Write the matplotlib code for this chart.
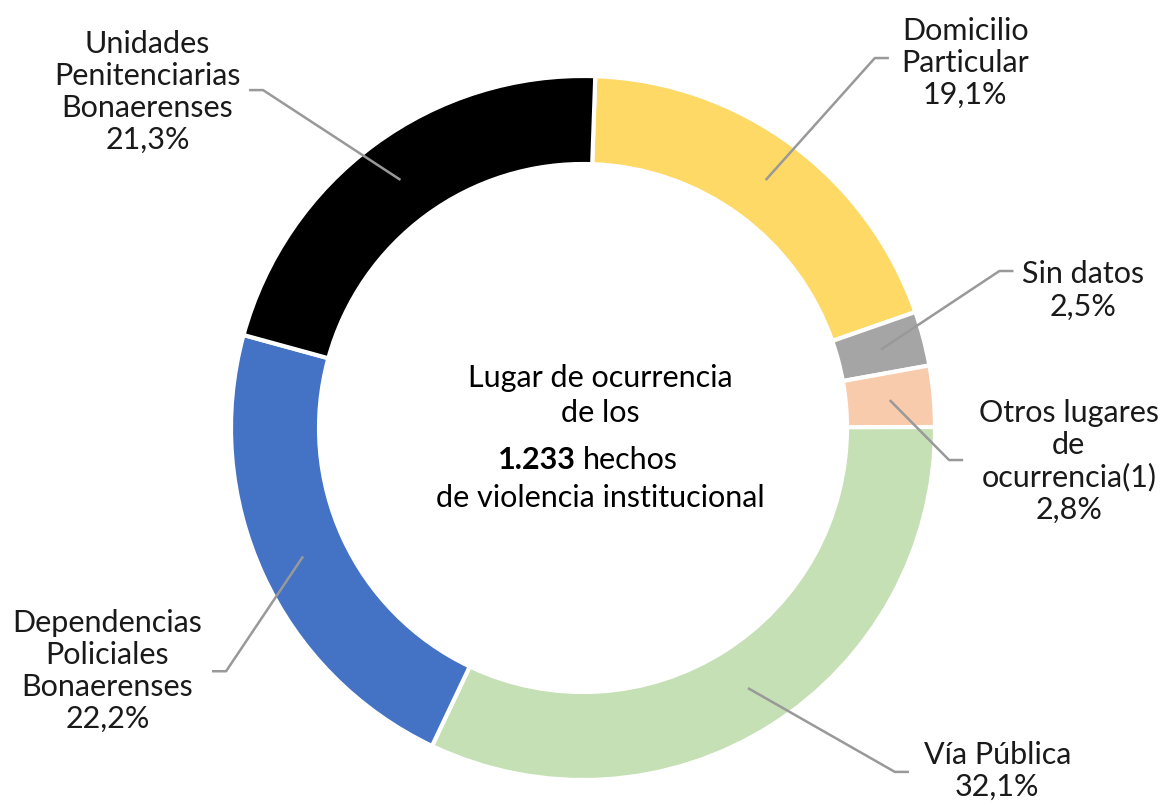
import numpy as np
import matplotlib
matplotlib.use("Agg")
import matplotlib.pyplot as plt

plt.rcParams['font.family'] = ['Lato', 'DejaVu Sans']

# Data
categorias = ["Domicilio\nParticular", "Sin datos", "Otros lugares\nde\nocurrencia(1)",
              "Vía Pública", "Dependencias\nPoliciales\nBonaerenses",
              "Unidades\nPenitenciarias\nBonaerenses"]
porcentajes = [19.1, 2.5, 2.8, 32.1, 22.2, 21.3]
colores = ["#FFD966", "#A5A5A5", "#F8CBAD", "#C5E0B4", "#4472C4", "#000000"]
total_hechos = "1.233"

# label layout: (elbow x, elbow y, text x, text y, side)
layout = [
    (0.829, 1.051, 1.086, 1.037, 1),
    (1.183, 0.446, 1.420, 0.391, 1),
    (1.040, -0.091, 1.380, -0.094, 1),
    (0.886, -0.977, 1.177, -0.974, 1),
    (-1.014, -0.691, -1.351, -0.691, -1),
    (-0.909, 0.960, -1.237, 0.954, -1),
]

W, H = 1168, 806
cx, cy, R = 583, 428, 352
FS = 22

fig = plt.figure(figsize=(W / 100, H / 100), dpi=100)
ax = fig.add_axes([0, 0, 1, 1])

start = 88
wedges, _ = ax.pie(porcentajes, colors=colores, startangle=start, counterclock=False,
                   radius=1.0, wedgeprops=dict(width=0.25, edgecolor='white', linewidth=3))

ax.set_xlim(-cx / R, (W - cx) / R)
ax.set_ylim(-(H - cy) / R, cy / R)
ax.set_aspect('equal')
ax.axis('off')

for w, cat, pct, (ex, ey, tx, ty, side) in zip(wedges, categorias, porcentajes, layout):
    ang = np.deg2rad((w.theta1 + w.theta2) / 2)
    sx, sy = 0.875 * np.cos(ang), 0.875 * np.sin(ang)
    ax.plot([sx, ex, ex + side * 0.04], [sy, ey, ey], color='#999999', lw=1.8,
            solid_capstyle='butt', zorder=3)
    txt = f"{cat}\n{pct:.1f}%".replace('.', ',')
    ax.text(tx, ty, txt, ha='center', va='center', fontsize=FS, linespacing=1.17,
            color='#1a1a1a')

# center text
ax.text(0.05, (cy - 378) / R, "Lugar de ocurrencia", ha='center', va='center', fontsize=FS)
ax.text(0.05, (cy - 413) / R, "de los", ha='center', va='center', fontsize=FS)
ax.text(-0.02, (cy - 460) / R, total_hechos, ha='right', va='center', fontsize=FS,
        fontweight='bold')
ax.text(-0.0, (cy - 460) / R, "hechos", ha='left', va='center', fontsize=FS)
ax.text(0.05, (cy - 498) / R, "de violencia institucional", ha='center', va='center',
        fontsize=FS)

fig.savefig("out.png", dpi=100, facecolor='white')
